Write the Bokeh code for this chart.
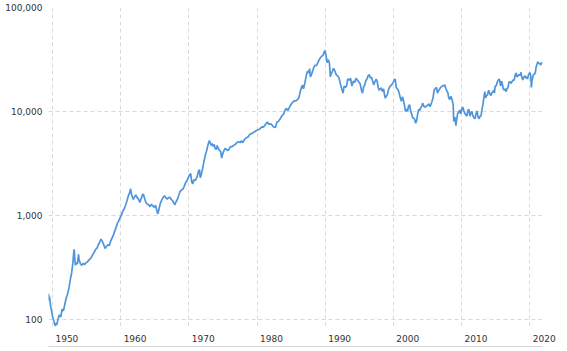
from bokeh.plotting import figure
from bokeh.models import Range1d, FixedTicker, NumeralTickFormatter, LinearAxis
from bokeh.embed import file_html
from bokeh.resources import INLINE

# Nikkei 225 (approximate)
years = [
    1949.4, 1949.5, 1949.55, 1949.7, 1949.85, 1950.0, 1950.2, 1950.4, 1950.5, 1950.6, 1950.8,
    1951.0, 1951.2, 1951.4, 1951.6, 1951.8, 1952.0, 1952.2, 1952.4, 1952.6, 1952.8,
    1953.0, 1953.1, 1953.17, 1953.25, 1953.35, 1953.5, 1953.65, 1953.8, 1953.9,
    1954.1, 1954.3, 1954.5, 1954.7, 1954.9, 1955.1, 1955.3, 1955.5, 1955.7, 1955.9,
    1956.1, 1956.3, 1956.5, 1956.7, 1956.9, 1957.1, 1957.3, 1957.5, 1957.7, 1957.9,
    1958.1, 1958.3, 1958.5, 1958.7, 1958.9, 1959.1, 1959.3, 1959.5, 1959.7, 1959.9,
    1960.1, 1960.3, 1960.5, 1960.7, 1960.9, 1961.1, 1961.3, 1961.45, 1961.55, 1961.7, 1961.85,
    1962.0, 1962.2, 1962.4, 1962.6, 1962.8, 1963.0, 1963.2, 1963.3, 1963.5, 1963.7, 1963.9,
    1964.1, 1964.3, 1964.5, 1964.7, 1964.9, 1965.1, 1965.3, 1965.45, 1965.6, 1965.8,
    1966.0, 1966.2, 1966.4, 1966.6, 1966.8, 1967.0, 1967.2, 1967.4, 1967.6, 1967.8, 1967.95,
    1968.1, 1968.3, 1968.5, 1968.7, 1968.9, 1969.1, 1969.3, 1969.5, 1969.7, 1969.9,
    1970.1, 1970.25, 1970.4, 1970.55, 1970.7, 1970.85, 1971.0, 1971.2, 1971.4, 1971.55, 1971.65, 1971.8,
    1972.0, 1972.2, 1972.4, 1972.6, 1972.8, 1973.0, 1973.1, 1973.25, 1973.4, 1973.55, 1973.7, 1973.85,
    1974.0, 1974.15, 1974.3, 1974.5, 1974.65, 1974.8, 1974.95, 1975.1, 1975.3, 1975.5, 1975.7, 1975.9,
    1976.1, 1976.3, 1976.5, 1976.7, 1976.9, 1977.1, 1977.3, 1977.5, 1977.7, 1977.9,
    1978.1, 1978.3, 1978.5, 1978.7, 1978.9, 1979.1, 1979.3, 1979.5, 1979.7, 1979.9,
    1980.1, 1980.3, 1980.5, 1980.7, 1980.9, 1981.1, 1981.3, 1981.5, 1981.7, 1981.9,
    1982.1, 1982.3, 1982.5, 1982.7, 1982.9, 1983.1, 1983.3, 1983.5, 1983.7, 1983.9,
    1984.1, 1984.3, 1984.5, 1984.7, 1984.9, 1985.1, 1985.3, 1985.5, 1985.7, 1985.9,
    1986.1, 1986.3, 1986.5, 1986.65, 1986.8, 1987.0, 1987.2, 1987.4, 1987.55, 1987.7, 1987.8, 1987.9,
    1988.1, 1988.3, 1988.5, 1988.7, 1988.9, 1989.1, 1989.3, 1989.5, 1989.7, 1989.85, 1989.95,
    1990.1, 1990.25, 1990.45, 1990.6, 1990.75, 1990.85, 1991.0, 1991.2, 1991.4, 1991.6, 1991.8,
    1992.0, 1992.2, 1992.4, 1992.6, 1992.75, 1992.9, 1993.1, 1993.3, 1993.5, 1993.7, 1993.9,
    1994.1, 1994.3, 1994.5, 1994.7, 1994.9, 1995.1, 1995.3, 1995.45, 1995.6, 1995.8, 1995.95,
    1996.1, 1996.3, 1996.45, 1996.6, 1996.8, 1996.95, 1997.1, 1997.3, 1997.45, 1997.6, 1997.75, 1997.9,
    1998.05, 1998.2, 1998.4, 1998.55, 1998.7, 1998.8, 1998.95, 1999.1, 1999.3, 1999.5, 1999.65, 1999.8, 1999.95,
    2000.1, 2000.25, 2000.4, 2000.55, 2000.7, 2000.85, 2001.0, 2001.15, 2001.3, 2001.45, 2001.6, 2001.75, 2001.9,
    2002.05, 2002.2, 2002.35, 2002.5, 2002.65, 2002.8, 2002.95, 2003.1, 2003.25, 2003.4, 2003.55, 2003.7, 2003.85,
    2004.0, 2004.15, 2004.3, 2004.45, 2004.6, 2004.75, 2004.9, 2005.05, 2005.2, 2005.35, 2005.5, 2005.65, 2005.8, 2005.95,
    2006.1, 2006.3, 2006.45, 2006.6, 2006.75, 2006.9, 2007.05, 2007.2, 2007.35, 2007.5, 2007.6, 2007.7, 2007.85, 2007.95,
    2008.1, 2008.25, 2008.4, 2008.5, 2008.65, 2008.75, 2008.83, 2008.9, 2009.0, 2009.15, 2009.25, 2009.4, 2009.55, 2009.7, 2009.85,
    2010.0, 2010.15, 2010.3, 2010.45, 2010.6, 2010.75, 2010.9, 2011.05, 2011.2, 2011.35, 2011.5, 2011.65, 2011.8, 2011.95,
    2012.1, 2012.25, 2012.4, 2012.55, 2012.7, 2012.85, 2012.95, 2013.1, 2013.25, 2013.38, 2013.5, 2013.65, 2013.8, 2013.95,
    2014.1, 2014.25, 2014.4, 2014.55, 2014.7, 2014.8, 2014.9, 2015.05, 2015.2, 2015.35, 2015.5, 2015.6, 2015.7, 2015.85, 2015.95,
    2016.1, 2016.25, 2016.4, 2016.5, 2016.65, 2016.8, 2016.95, 2017.1, 2017.25, 2017.4, 2017.55, 2017.7, 2017.85,
    2018.0, 2018.1, 2018.25, 2018.4, 2018.55, 2018.7, 2018.8, 2018.95, 2019.0, 2019.15, 2019.3, 2019.4, 2019.55, 2019.65, 2019.8, 2019.95,
    2020.05, 2020.15, 2020.22, 2020.3, 2020.4, 2020.5, 2020.65, 2020.8, 2020.9, 2021.05, 2021.15, 2021.3, 2021.45, 2021.6, 2021.7, 2021.85,
]
values = [
    176, 150, 165, 135, 120, 105, 95, 86, 92, 88, 100,
    110, 105, 125, 120, 140, 160, 175, 200, 240, 280,
    360, 440, 470, 380, 330, 350, 340, 420, 370,
    340, 330, 345, 335, 350, 355, 370, 380, 395, 420,
    440, 470, 480, 520, 550, 590, 560, 520, 480, 500,
    520, 510, 560, 600, 640, 700, 760, 840, 880, 950,
    1000, 1100, 1150, 1250, 1370, 1530, 1650, 1800, 1620, 1500, 1420,
    1500, 1570, 1480, 1430, 1330, 1450, 1580, 1600, 1450, 1320, 1280,
    1260, 1210, 1280, 1230, 1190, 1250, 1100, 1030, 1150, 1300,
    1400, 1480, 1540, 1470, 1430, 1480, 1490, 1420, 1380, 1300, 1260,
    1350, 1420, 1550, 1700, 1750, 1780, 1900, 2050, 2150, 2300,
    2450, 2520, 2100, 2000, 2200, 2150, 2200, 2350, 2650, 2750, 2300, 2450,
    2800, 3300, 3800, 4200, 4800, 5250, 5000, 4700, 4900, 4600, 4800, 4400,
    4300, 4700, 4400, 4200, 4100, 3550, 3900, 4150, 4400, 4300, 4200, 4350,
    4600, 4550, 4700, 4750, 4900, 5050, 5100, 5000, 5200, 5000,
    5300, 5500, 5600, 5700, 6000, 6100, 6150, 6300, 6400, 6550,
    6650, 6700, 6900, 7100, 7050, 7300, 7600, 7900, 7500, 7600,
    7500, 7200, 7000, 7050, 7900, 8000, 8300, 8800, 9200, 9400,
    10300, 10700, 10200, 10800, 11500, 12000, 12400, 12700, 12600, 13000,
    13400, 15300, 17000, 17900, 16500, 18800, 22000, 24500, 23500, 25800, 21500, 22000,
    24000, 26500, 27800, 27500, 29500, 31500, 33000, 34000, 35000, 37500, 38500,
    35000, 29500, 31500, 29000, 21500, 23000, 24000, 26000, 24500, 22500, 22000,
    21000, 18500, 16500, 15000, 17500, 17000, 17500, 20500, 20000, 20800, 17500,
    19500, 19000, 20800, 20000, 19300, 18500, 16000, 15000, 17000, 18200, 19800,
    20500, 22200, 22500, 21000, 21200, 19500, 18000, 19500, 20500, 19500, 17000, 16000,
    16500, 16800, 15500, 16500, 14200, 13400, 14000, 14500, 16500, 17500, 17800, 18300, 19000,
    19800, 20500, 17000, 16500, 16000, 14800, 13500, 12500, 13800, 12800, 11500, 10000, 10500,
    10000, 11200, 11600, 10200, 9500, 8700, 8600, 8400, 7700, 8200, 9500, 10500, 10200,
    10800, 11300, 12000, 11200, 11000, 11100, 11400, 11500, 11800, 11100, 11700, 12500, 13500, 16000,
    16500, 17000, 15000, 15800, 16300, 17000, 17300, 17600, 17700, 18000, 17300, 16500, 15500, 15300,
    13500, 13000, 14000, 13500, 12500, 11500, 8000, 8500, 8800, 7300, 8200, 9500, 9800, 10300, 9500,
    10500, 11000, 10200, 9600, 9300, 9000, 10200, 10500, 9000, 9600, 10000, 9000, 8700, 8500,
    9500, 10100, 8800, 8500, 9000, 9100, 10300, 11500, 13500, 15500, 13500, 14200, 14500, 16000,
    15000, 14200, 15000, 15400, 16000, 15000, 17500, 17500, 19000, 20000, 20500, 19500, 17500, 19500, 18500,
    16500, 16000, 16500, 15500, 16500, 17000, 19200, 19300, 18600, 19500, 20000, 20000, 22500,
    23500, 21500, 22000, 22500, 22300, 23800, 21500, 20000, 20500, 21500, 22000, 20800, 21500, 20500, 22500, 23500,
    23300, 21000, 17000, 19500, 21000, 22500, 22800, 23500, 26500, 28500, 30000, 29000, 28800, 28000, 29500, 28900,
]

y_ticks = [100, 1000, 10000, 100000]
x_grid_years = [1950, 1960, 1970, 1980, 1990, 2000, 2010, 2020]
x_tick_labels = ["1950", "1960", "1970", "1980", "1990", "2000", "2010", "2020"]

FONT = "DejaVu Sans"
FSIZE = "9px"
LABEL_COLOR = "#333333"
PAD = "\u2007" * 5  # figure spaces: shift the centred label so it starts just right of its gridline

p = figure(
    width=567, height=351, y_axis_type="log",
    x_range=Range1d(1949.4, 2021.85), y_range=Range1d(85, 100000),
    output_backend="svg", toolbar_location=None,
    min_border_left=48, min_border_right=25, min_border_top=7, min_border_bottom=25,
)
p.outline_line_color = None
p.background_fill_color = "white"
p.border_fill_color = "white"

p.line(years, values, line_color="#5095da", line_width=1.7)

# grids
p.xgrid.ticker = FixedTicker(ticks=x_grid_years)
p.ygrid.ticker = FixedTicker(ticks=y_ticks)
for g in (p.xgrid, p.ygrid):
    g.grid_line_color = "#d9d9d9"
    g.grid_line_dash = "4 3"
    g.grid_line_width = 1

# y axis
ya = p.yaxis[0]
ya.ticker = FixedTicker(ticks=y_ticks)
ya.formatter = NumeralTickFormatter(format="0,0")
ya.axis_line_color = None
ya.major_tick_line_color = None
ya.minor_tick_line_color = None
ya.major_tick_out = 0
ya.major_label_standoff = 6
ya.major_label_text_font = FONT
ya.major_label_text_font_size = FSIZE
ya.major_label_text_color = LABEL_COLOR

# x axis
xa = p.xaxis[0]
xa.ticker = FixedTicker(ticks=x_grid_years)
xa.major_label_overrides = {yr: PAD + txt for yr, txt in zip(x_grid_years, x_tick_labels)}
xa.axis_line_color = None
xa.major_tick_line_color = None
xa.minor_tick_line_color = None
xa.major_tick_out = 0
xa.major_label_standoff = 7
xa.major_label_text_font = FONT
xa.major_label_text_font_size = FSIZE
xa.major_label_text_color = LABEL_COLOR

# second (empty) axis below, only to draw the thin gray rule under the labels
rule = LinearAxis(ticker=FixedTicker(ticks=[]))
rule.axis_line_color = "#d6d6d6"
rule.major_tick_line_color = None
rule.minor_tick_line_color = None
rule.major_tick_out = 0
rule.major_label_standoff = 0
p.add_layout(rule, "below")

open("out.html", "w").write(file_html(p, INLINE))
